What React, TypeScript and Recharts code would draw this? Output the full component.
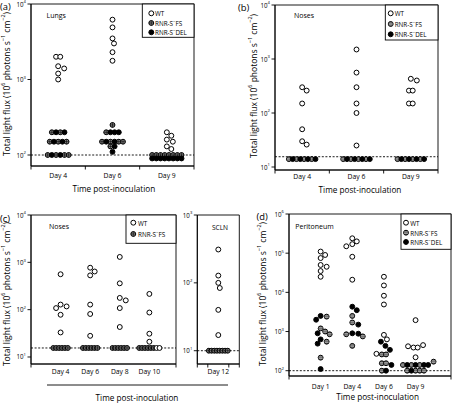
import React from 'react';
import { ScatterChart, Scatter, XAxis, YAxis, ReferenceLine, ReferenceArea } from 'recharts';

const W = 453;
const H = 403;
const FONT = '"Open Sans", Lato, "DejaVu Sans", sans-serif';
const YW = 30;
const XH = 20;

// ---------- (a) Lungs ----------
const lungsDays = ['Day 4', 'Day 6', 'Day 9'];
const lungsWT = [
  [2000, 2000, 1500, 1400, 1200, 1000],
  [6200, 4900, 3500, 3000, 2300, 1770],
  [200, 180, 160, 150, 130, 120],
];
const lungsFS = [
  [200, 200, 150, 150, 150, 100, 100, 100, 100],
  [250, 200, 150, 150, 150, 150, 130],
  [100, 100, 100, 100, 100, 100, 100, 100],
];
const lungsDEL = [
  [200, 200, 150, 150, 100, 100],
  [200, 200, 200, 150, 150, 130, 110],
  [90, 90, 90, 90, 90, 90, 90, 90],
];

// ---------- (b) Noses ----------
const nosesBDays = ['Day 4', 'Day 6', 'Day 9'];
const nosesBWT = [
  [300, 260, 150, 50, 30, 26],
  [1500, 560, 300, 150, 100, 25],
  [430, 400, 260, 260, 150, 150],
];
const nosesBFS = [
  [14, 14, 14, 14],
  [14, 14, 14, 14],
  [14, 14, 14, 14],
];
const nosesBDEL = [
  [14, 14, 14, 14],
  [14, 14, 14, 14],
  [14, 14, 14, 14],
];

// ---------- (c) Noses ----------
const nosesCDays = ['Day 4', 'Day 6', 'Day 8', 'Day 10'];
const nosesCWT = [
  [560, 128, 117, 108, 78, 33],
  [770, 640, 530, 128, 81, 28],
  [1300, 360, 177, 157, 108, 43],
  [215, 87, 31, 21, 15.5, 15.5],
];
const nosesCFS = [
  [15.5, 15.5, 15.5, 15.5, 15.5, 15.5],
  [15.5, 15.5, 15.5, 15.5, 15.5, 15.5],
  [15.5, 15.5, 15.5, 15.5, 15.5, 15.5],
  [15.5, 15.5, 15.5, 15.5, 15.5, 15.5],
];

// ---------- (c) SCLN ----------
const sclnDays = ['Day 12'];
const sclnWT = [[310, 128, 100, 84, 40, 17]];
const sclnFS = [[10, 10, 10, 10, 10, 10, 10, 10]];

// ---------- (d) Peritoneum ----------
const periDays = ['Day 1', 'Day 4', 'Day 6', 'Day 9'];
const periWT = [
  [110000, 90000, 75000, 50000, 45000, 35000, 25000],
  [240000, 200000, 170000, 150000, 81000, 21000],
  [25000, 15000, 8200, 4900, 820, 630, 270],
  [1950, 450, 420, 390, 390, 220],
];
const periFS = [
  [2400, 1200, 1000, 850, 550, 215],
  [2500, 1700, 850, 750, 430],
  [260, 260, 155, 155, 100],
  [170, 140, 140, 140, 100, 100, 100, 100],
];
const periDEL = [
  [2500, 2000, 900, 630, 490, 110],
  [4300, 3500, 1500, 900, 880],
  [550, 430, 340, 140, 100],
  [140, 140, 140, 140, 100],
];

type Key = 'WT' | 'FS' | 'DEL';
type SeriesDef = { key: Key; values: number[][] };
type Geom = { left: number; right: number; top: number; bottom: number };

const STEP = 1.5;
const DMIN = 5.2;

function layoutPanel(series: SeriesDef[], centers: number[], pxX: number, pxY: number, gap: number) {
  const out: Record<string, { x: number; y: number }[]> = { WT: [], FS: [], DEL: [] };
  centers.forEach((c, gi) => {
    const groups = series.map((s) => ({ key: s.key, vals: s.values[gi] || [] }));
    const counts = new Map<number, number>();
    groups.forEach((g) => g.vals.forEach((v) => counts.set(v, (counts.get(v) || 0) + 1)));
    const placed: { key: string; v: number; dx: number; py: number }[] = [];
    Array.from(counts.keys())
      .filter((v) => (counts.get(v) as number) > 1)
      .forEach((v) => {
        const pools = groups
          .filter((g) => g.key !== 'WT')
          .map((g) => ({ key: g.key, n: g.vals.filter((x) => x === v).length }));
        const seq: string[] = [];
        let more = true;
        while (more) {
          more = false;
          pools.forEach((p) => {
            if (p.n > 0) {
              seq.push(p.key);
              p.n -= 1;
              more = true;
            }
          });
        }
        groups
          .filter((g) => g.key === 'WT')
          .forEach((g) => g.vals.filter((x) => x === v).forEach(() => seq.push('WT')));
        const py = -Math.log10(v) * pxY;
        seq.forEach((key, i) => placed.push({ key, v, dx: (i - (seq.length - 1) / 2) * gap, py }));
      });
    const singles: { key: string; v: number }[] = [];
    groups.forEach((g) => g.vals.forEach((v) => {
      if (counts.get(v) === 1) singles.push({ key: g.key, v });
    }));
    singles.sort((a, b) => b.v - a.v);
    singles.forEach((s) => {
      const py = -Math.log10(s.v) * pxY;
      let done = false;
      for (let k = 0; k < 80 && !done; k++) {
        const dx = (k % 2 === 1 ? 1 : -1) * Math.ceil(k / 2) * STEP;
        if (placed.every((q) => Math.hypot(q.dx - dx, q.py - py) >= DMIN)) {
          placed.push({ key: s.key, v: s.v, dx, py });
          done = true;
        }
      }
      if (!done) placed.push({ key: s.key, v: s.v, dx: 0, py });
    });
    placed.forEach((p) => out[p.key].push({ x: c + p.dx / pxX, y: p.v }));
  });
  return out;
}

const R = 2.45;
const MSW = 1;

function Marker({ kind, cx, cy, variant }: { kind: Key; cx: number; cy: number; variant: 'cross' | 'stripes' }) {
  if (cx == null || cy == null) return null;
  if (kind === 'WT') return <circle cx={cx} cy={cy} r={R} fill="#fff" stroke="#000" strokeWidth={MSW} />;
  if (kind === 'DEL') return <circle cx={cx} cy={cy} r={R} fill="#000" stroke="#000" strokeWidth={MSW} />;
  return (
    <g>
      <circle cx={cx} cy={cy} r={R} fill={variant === 'cross' ? '#8a8a8a' : '#5e5e5e'} stroke="#000" strokeWidth={MSW} />
      {variant === 'cross' ? (
        <path d={`M${cx - R} ${cy}H${cx + R}M${cx} ${cy - R}V${cy + R}`} stroke="#000" strokeWidth={0.6} />
      ) : (
        <path d={`M${cx - R + 0.4} ${cy - 0.8}H${cx + R - 0.4}M${cx - R + 0.4} ${cy + 0.8}H${cx + R - 0.4}`} stroke="#ddd" strokeWidth={0.5} />
      )}
    </g>
  );
}

type PanelProps = {
  geom: Geom;
  days: string[];
  centers: number[];
  boundaries: number[];
  xDomain: [number, number];
  yDomain: [number, number];
  yTicks: number[];
  dashY: number;
  gap: number;
  variant: 'cross' | 'stripes';
  series: SeriesDef[];
  dayLabelY: number;
};

function Panel(p: PanelProps) {
  const { geom, days, centers, boundaries, xDomain, yDomain, yTicks, dashY, gap, variant, series, dayLabelY } = p;
  const pxX = (geom.right - geom.left) / (xDomain[1] - xDomain[0]);
  const pxY = (geom.bottom - geom.top) / (Math.log10(yDomain[1]) - Math.log10(yDomain[0]));
  const pts = layoutPanel(series, centers, pxX, pxY, gap);
  const order: Key[] = ['FS', 'DEL', 'WT'];
  const keys = order.filter((k) => series.some((s) => s.key === k));
  return (
    <div style={{ position: 'absolute', left: 0, top: 0 }}>
      <ScatterChart
        width={W}
        height={H}
        margin={{ top: geom.top, left: geom.left - YW, right: W - geom.right, bottom: H - geom.bottom - XH }}
      >
        <XAxis
          type="number"
          dataKey="x"
          domain={xDomain}
          allowDataOverflow
          ticks={[...boundaries, ...centers]}
          interval={0}
          height={XH}
          tickLine={false}
          axisLine={{ stroke: '#000', strokeWidth: 0.9 }}
          tick={(t: any) => {
            const v = t.payload.value;
            const ci = centers.indexOf(v);
            if (ci >= 0) {
              return (
                <text x={t.x} y={dayLabelY} textAnchor="middle" dominantBaseline="central" fontSize={6.8} fontFamily={FONT} fill="#000">
                  {days[ci]}
                </text>
              );
            }
            return <line x1={t.x} x2={t.x} y1={geom.bottom} y2={geom.bottom + 3.5} stroke="#000" strokeWidth={0.9} />;
          }}
        />
        <YAxis
          type="number"
          dataKey="y"
          scale="log"
          domain={yDomain}
          allowDataOverflow
          ticks={yTicks}
          interval={0}
          width={YW}
          tickSize={3.5}
          tickMargin={1.5}
          tickLine={{ stroke: '#000', strokeWidth: 0.9 }}
          axisLine={{ stroke: '#000', strokeWidth: 0.9 }}
          tick={(t: any) => (
            <text x={t.x} y={t.y} textAnchor="end" dominantBaseline="central" fontSize={6.2} fontFamily={FONT} fill="#000">
              10
              <tspan dy={-2.6} fontSize={4.2}>{Math.round(Math.log10(t.payload.value))}</tspan>
            </text>
          )}
        />
        <ReferenceArea
          x1={xDomain[0]}
          x2={xDomain[1]}
          y1={yDomain[0]}
          y2={yDomain[1]}
          fill="none"
          fillOpacity={0}
          stroke="#000"
          strokeWidth={0.9}
          ifOverflow="visible"
        />
        <ReferenceLine y={dashY} stroke="#000" strokeWidth={0.9} strokeDasharray="2 1.6" ifOverflow="visible" />
        {keys.map((k) => (
          <Scatter
            key={k}
            name={k}
            data={pts[k]}
            isAnimationActive={false}
            shape={(sp: any) => <Marker kind={k} cx={sp.cx} cy={sp.cy} variant={variant} />}
          />
        ))}
      </ScatterChart>
    </div>
  );
}

const SUPDY = 2.9;

function YTitle({ x, y }: { x: number; y: number }) {
  return (
    <text transform={`translate(${x},${y}) rotate(-90)`} textAnchor="middle" dominantBaseline="central" fontSize={8.5} fontFamily={FONT} fill="#000">
      <tspan>Total light flux (10</tspan>
      <tspan dy={-SUPDY} fontSize={5.5}>6</tspan>
      <tspan dy={SUPDY}>{' photons s'}</tspan>
      <tspan dy={-SUPDY} fontSize={5.5}>−1</tspan>
      <tspan dy={SUPDY}>{' cm'}</tspan>
      <tspan dy={-SUPDY} fontSize={5.5}>−2</tspan>
      <tspan dy={SUPDY}>)</tspan>
    </text>
  );
}

function XTitle({ x, y }: { x: number; y: number }) {
  return (
    <text x={x} y={y} textAnchor="middle" dominantBaseline="central" fontSize={8.2} fontFamily={FONT} fill="#000">
      Time post-inoculation
    </text>
  );
}

function LegendBox({ x, y, w, h, mx, tx, rows, variant }: {
  x: number; y: number; w: number; h: number; mx: number; tx: number;
  rows: { kind: Key; y: number }[]; variant: 'cross' | 'stripes';
}) {
  const label = (k: Key) => {
    if (k === 'WT') return <tspan>WT</tspan>;
    return (
      <>
        <tspan>RNR-S</tspan>
        <tspan dy={-2.2} fontSize={4.4}>−</tspan>
        <tspan dy={2.2}>{k === 'FS' ? 'FS' : 'DEL'}</tspan>
      </>
    );
  };
  return (
    <g>
      <rect x={x} y={y} width={w} height={h} fill="#fff" stroke="#000" strokeWidth={0.9} />
      {rows.map((r) => (
        <g key={r.kind}>
          <Marker kind={r.kind} cx={mx} cy={r.y} variant={variant} />
          <text x={tx} y={r.y} dominantBaseline="central" fontSize={6.3} fontFamily={FONT} fill="#000">
            {label(r.kind)}
          </text>
        </g>
      ))}
    </g>
  );
}

export default function App() {
  return (
    <div style={{ position: 'absolute', left: 0, top: 0, width: W, height: H, background: '#fff', overflow: 'hidden' }}>
      <Panel
        geom={{ left: 31, right: 194, top: 4, bottom: 166 }}
        days={lungsDays}
        centers={[0.5, 1.5, 2.5]}
        boundaries={[0, 1, 2, 3]}
        xDomain={[0, 3]}
        yDomain={[71.5, 10000]}
        yTicks={[100, 1000, 10000]}
        dashY={100}
        gap={4.2}
        variant="cross"
        dayLabelY={175.7}
        series={[
          { key: 'WT', values: lungsWT },
          { key: 'FS', values: lungsFS },
          { key: 'DEL', values: lungsDEL },
        ]}
      />
      <Panel
        geom={{ left: 275, right: 438, top: 5, bottom: 170 }}
        days={nosesBDays}
        centers={[0.5, 1.5, 2.5]}
        boundaries={[0, 1, 2, 3]}
        xDomain={[0, 3]}
        yDomain={[8.8, 10000]}
        yTicks={[10, 100, 1000, 10000]}
        dashY={15.5}
        gap={3.8}
        variant="stripes"
        dayLabelY={176.5}
        series={[
          { key: 'WT', values: nosesBWT },
          { key: 'FS', values: nosesBFS },
          { key: 'DEL', values: nosesBDEL },
        ]}
      />
      <Panel
        geom={{ left: 31, right: 176, top: 215, bottom: 364 }}
        days={nosesCDays}
        centers={[1, 2, 3, 4]}
        boundaries={[0, 4.9]}
        xDomain={[0, 4.9]}
        yDomain={[7.11, 10000]}
        yTicks={[10, 100, 1000, 10000]}
        dashY={15.5}
        gap={2.9}
        variant="cross"
        dayLabelY={371.7}
        series={[
          { key: 'WT', values: nosesCWT },
          { key: 'FS', values: nosesCFS },
        ]}
      />
      <Panel
        geom={{ left: 197.3, right: 239.3, top: 215, bottom: 364 }}
        days={sclnDays}
        centers={[0.5]}
        boundaries={[0, 0.25, 0.75, 1]}
        xDomain={[0, 1]}
        yDomain={[6.37, 1000]}
        yTicks={[10, 100, 1000]}
        dashY={10}
        gap={2.7}
        variant="cross"
        dayLabelY={371.2}
        series={[
          { key: 'WT', values: sclnWT },
          { key: 'FS', values: sclnFS },
        ]}
      />
      <Panel
        geom={{ left: 289, right: 451, top: 214, bottom: 376 }}
        days={periDays}
        centers={[1, 2, 3, 4]}
        boundaries={[0, 5.12]}
        xDomain={[0, 5.12]}
        yDomain={[73.2, 1000000]}
        yTicks={[100, 1000, 10000, 100000, 1000000]}
        dashY={100}
        gap={4.2}
        variant="stripes"
        dayLabelY={386.7}
        series={[
          { key: 'WT', values: periWT },
          { key: 'FS', values: periFS },
          { key: 'DEL', values: periDEL },
        ]}
      />
      <svg width={W} height={H} style={{ position: 'absolute', left: 0, top: 0, pointerEvents: 'none' }}>
        <g fontFamily={FONT} fill="#000">
          <text x={0} y={9.8} fontSize={9.4}>(a)</text>
          <text x={238} y={10.5} fontSize={9.4}>(b)</text>
          <text x={0} y={221.5} fontSize={9.4}>(c)</text>
          <text x={256.5} y={220} fontSize={9.4}>(d)</text>

          <text x={46.5} y={15.7} fontSize={7} dominantBaseline="central">Lungs</text>
          <text x={294} y={15.7} fontSize={7} dominantBaseline="central">Noses</text>
          <text x={49} y={226.7} fontSize={7} dominantBaseline="central">Noses</text>
          <text x={220} y={227.7} fontSize={6.6} textAnchor="middle" dominantBaseline="central">SCLN</text>
          <text x={295.3} y={226.7} fontSize={7} dominantBaseline="central">Peritoneum</text>
        </g>

        <YTitle x={6} y={84} />
        <YTitle x={253.3} y={86} />
        <YTitle x={6} y={294} />
        <YTitle x={262} y={294} />

        <XTitle x={113.8} y={188.7} />
        <XTitle x={360} y={189} />
        <XTitle x={137} y={397.5} />
        <XTitle x={377.7} y={396.7} />

        <line x1={47} x2={228} y1={385} y2={385} stroke="#000" strokeWidth={0.9} />

        <LegendBox x={142.3} y={4} w={51.7} h={33.3} mx={151.3} tx={155} variant="cross"
          rows={[{ kind: 'WT', y: 13.3 }, { kind: 'FS', y: 23 }, { kind: 'DEL', y: 32.3 }]} />
        <LegendBox x={385.3} y={5} w={52.7} h={35} mx={390.7} tx={394.7} variant="stripes"
          rows={[{ kind: 'WT', y: 13.3 }, { kind: 'FS', y: 24 }, { kind: 'DEL', y: 34.3 }]} />
        <LegendBox x={126} y={215} w={50} h={28.3} mx={133.3} tx={138} variant="cross"
          rows={[{ kind: 'WT', y: 222.7 }, { kind: 'FS', y: 234 }]} />
        <LegendBox x={401} y={214} w={50} h={35.3} mx={406} tx={410.3} variant="stripes"
          rows={[{ kind: 'WT', y: 222.7 }, { kind: 'FS', y: 232.7 }, { kind: 'DEL', y: 242 }]} />
      </svg>
    </div>
  );
}
